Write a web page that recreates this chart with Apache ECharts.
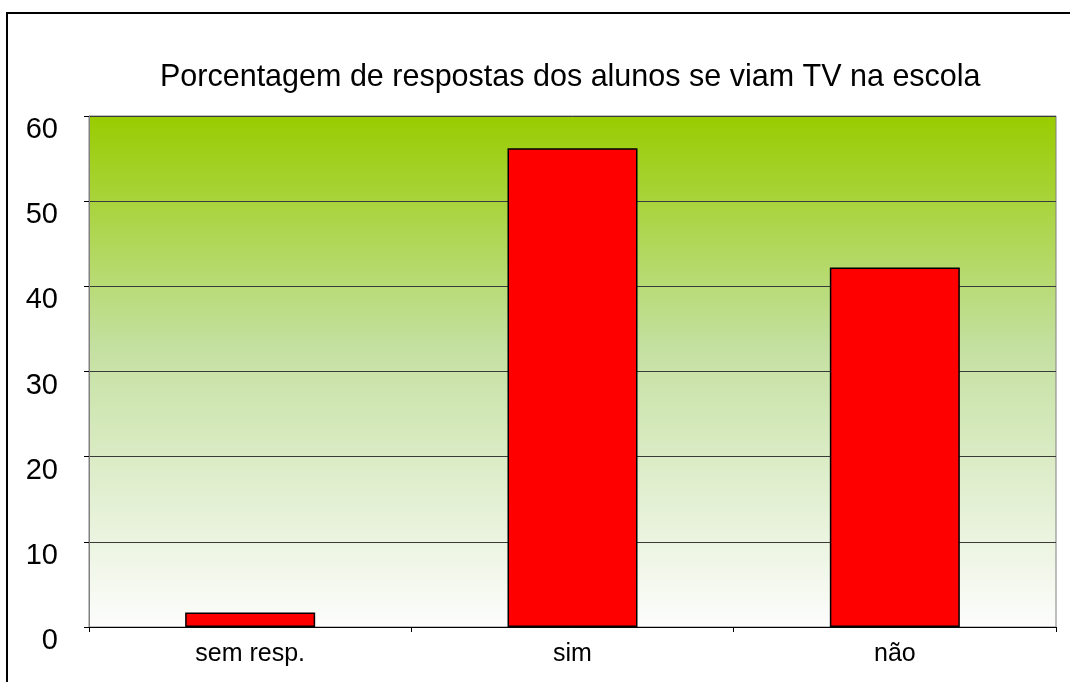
<!DOCTYPE html>
<html>
<head>
<meta charset="utf-8">
<script src="https://cdn.jsdelivr.net/npm/echarts@6/dist/echarts.min.js"></script>
<style>
  html, body { margin: 0; padding: 0; background: #fff; }
  #chart { width: 1070px; height: 682px; }
</style>
</head>
<body>
<div id="chart"></div>
<script>
const categories = ['sem resp.', 'sim', 'não']
const respostas = [1.7, 56.2, 42.2]
const yTicks = [0, 10, 20, 30, 40, 50, 60]

const chart = echarts.init(document.getElementById('chart'))

const option = {
  animation: false,
  title: {
    text: 'Porcentagem de respostas dos alunos se viam TV na escola',
    left: 155,
    top: 57,
    textStyle: {
      fontFamily: 'Liberation Sans, Arial, sans-serif',
      fontSize: 30.5,
      fontWeight: 'normal',
      color: '#000'
    }
  },
  graphic: [
    {
      type: 'rect',
      shape: { x: 7, y: 13, width: 1100, height: 720 },
      style: { fill: null, stroke: '#000', lineWidth: 2 },
      silent: true
    }
  ],
  grid: {
    left: 89,
    right: 14,
    top: 116,
    bottom: 55,
    show: true,
    borderColor: '#808080',
    borderWidth: 1,
    backgroundColor: new echarts.graphic.LinearGradient(0, 0, 0, 1, [
      { offset: 0, color: '#99cc00' },
      { offset: 0.45, color: '#c4e0a0' },
      { offset: 1, color: '#fdfdfd' }
    ])
  },
  xAxis: {
    type: 'category',
    data: categories,
    axisLine: { show: true, lineStyle: { color: '#000', width: 1 } },
    axisTick: { show: true, length: 5, lineStyle: { color: '#000' } },
    axisLabel: {
      fontFamily: 'Liberation Sans, Arial, sans-serif',
      fontSize: 25,
      color: '#000',
      margin: 15
    }
  },
  yAxis: {
    type: 'value',
    min: 0,
    max: yTicks[yTicks.length - 1],
    interval: 10,
    axisLine: { show: true, lineStyle: { color: '#808080', width: 1 } },
    axisTick: { show: true, length: 5, lineStyle: { color: '#000' } },
    splitLine: { show: true, lineStyle: { color: '#3a3a3a', width: 1 } },
    axisLabel: {
      fontFamily: 'Liberation Sans, Arial, sans-serif',
      fontSize: 29,
      color: '#000',
      margin: 31,
      verticalAlign: 'top',
      lineHeight: 28
    }
  },
  series: [
    {
      type: 'bar',
      data: respostas,
      barWidth: 130,
      itemStyle: {
        color: '#ff0000',
        borderColor: '#000',
        borderWidth: 1.5
      }
    }
  ]
}

chart.setOption(option)
window.addEventListener('resize', () => chart.resize())
</script>
</body>
</html>
